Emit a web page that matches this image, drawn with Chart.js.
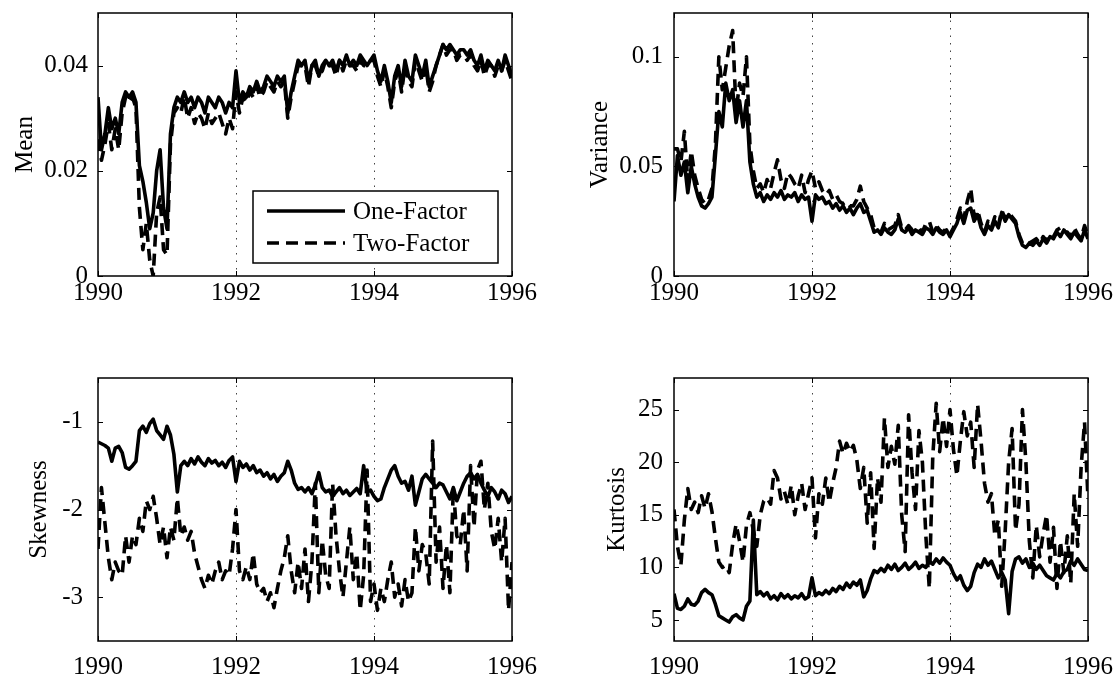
<!DOCTYPE html>
<html>
<head>
<meta charset="utf-8">
<title>One-Factor vs Two-Factor moments</title>
<script src="https://cdn.jsdelivr.net/npm/chart.js@4.4.0/dist/chart.umd.min.js"></script>
<style>
  html, body { margin: 0; padding: 0; background: #fff; width: 1114px; height: 677px; overflow: hidden; }
  canvas { position: absolute; }
</style>
</head>
<body>
<canvas id="cMean" width="538" height="310" style="left:0;top:0"></canvas>
<canvas id="cVar" width="538" height="310" style="left:576px;top:0"></canvas>
<canvas id="cSkew" width="538" height="312" style="left:0;top:365px"></canvas>
<canvas id="cKurt" width="538" height="312" style="left:576px;top:365px"></canvas>
<script>
// Observation grid: 20 observations per year starting in 1990
const FIRST_YEAR = 1990;
const OBS_PER_YEAR = 20;
const seriesNames = ['One-Factor', 'Two-Factor'];
const xTickYears = [1990, 1992, 1994, 1996];
const gridYears = [1992, 1994];

// Mean
const meanOne = [
  0.034,0.024,0.027,0.032,0.028,0.030,0.027,0.033,0.035,0.034,0.035,0.033,0.021,0.018,0.014,0.009,0.012,0.020,0.024,0.013,
  0.009,0.027,0.032,0.034,0.033,0.035,0.033,0.034,0.032,0.034,0.033,0.031,0.034,0.033,0.032,0.034,0.033,0.031,0.033,0.032,
  0.039,0.033,0.035,0.034,0.036,0.035,0.037,0.035,0.036,0.038,0.037,0.036,0.038,0.037,0.038,0.031,0.035,0.038,0.041,0.040,
  0.041,0.037,0.040,0.041,0.038,0.040,0.041,0.040,0.041,0.039,0.041,0.040,0.042,0.040,0.041,0.040,0.042,0.041,0.040,0.041,
  0.042,0.039,0.037,0.040,0.037,0.033,0.038,0.040,0.036,0.041,0.038,0.037,0.042,0.040,0.038,0.041,0.036,0.038,0.040,0.042,
  0.044,0.043,0.044,0.043,0.042,0.043,0.043,0.042,0.043,0.041,0.040,0.042,0.039,0.041,0.040,0.039,0.041,0.039,0.042,0.040,
  0.038
];
const meanTwo = [
  0.026,0.022,0.025,0.029,0.024,0.028,0.024,0.031,0.034,0.033,0.034,0.032,0.013,0.005,0.010,0.003,0.000,0.012,0.015,0.005,
  0.004,0.025,0.031,0.032,0.031,0.034,0.030,0.032,0.029,0.031,0.030,0.028,0.031,0.029,0.030,0.031,0.029,0.027,0.030,0.028,
  0.035,0.031,0.034,0.033,0.035,0.034,0.036,0.034,0.035,0.037,0.036,0.035,0.037,0.036,0.037,0.030,0.034,0.037,0.040,0.040,
  0.040,0.036,0.040,0.040,0.038,0.039,0.041,0.040,0.040,0.038,0.041,0.039,0.041,0.040,0.040,0.039,0.041,0.040,0.040,0.041,
  0.041,0.038,0.036,0.039,0.036,0.032,0.037,0.039,0.035,0.040,0.037,0.036,0.041,0.039,0.037,0.040,0.035,0.037,0.040,0.042,
  0.044,0.042,0.043,0.043,0.041,0.042,0.042,0.041,0.042,0.040,0.039,0.041,0.038,0.040,0.040,0.038,0.040,0.039,0.041,0.039,
  0.037
];

// Variance
const varOne = [
  0.034,0.055,0.046,0.052,0.038,0.050,0.042,0.036,0.032,0.031,0.033,0.036,0.055,0.075,0.068,0.088,0.080,0.085,0.070,0.080,
  0.068,0.080,0.052,0.042,0.036,0.038,0.034,0.037,0.035,0.038,0.036,0.039,0.035,0.037,0.036,0.038,0.034,0.037,0.035,0.036,
  0.025,0.037,0.035,0.036,0.033,0.034,0.031,0.033,0.030,0.032,0.029,0.031,0.028,0.031,0.033,0.029,0.030,0.025,0.020,0.021,
  0.019,0.022,0.020,0.019,0.021,0.026,0.021,0.020,0.022,0.019,0.021,0.020,0.019,0.022,0.021,0.019,0.022,0.020,0.019,0.021,
  0.018,0.021,0.024,0.029,0.024,0.030,0.031,0.025,0.028,0.022,0.019,0.023,0.021,0.025,0.022,0.029,0.025,0.028,0.026,0.024,
  0.018,0.014,0.013,0.015,0.014,0.016,0.014,0.017,0.015,0.018,0.017,0.020,0.018,0.021,0.019,0.017,0.020,0.018,0.016,0.021,
  0.017
];
const varTwo = [
  0.058,0.058,0.052,0.066,0.043,0.057,0.046,0.040,0.035,0.033,0.035,0.040,0.060,0.100,0.085,0.095,0.105,0.112,0.075,0.088,
  0.082,0.100,0.060,0.048,0.040,0.042,0.038,0.044,0.040,0.047,0.053,0.044,0.040,0.047,0.045,0.042,0.040,0.046,0.038,0.044,
  0.048,0.040,0.043,0.039,0.037,0.039,0.035,0.037,0.034,0.033,0.034,0.032,0.032,0.035,0.041,0.034,0.031,0.028,0.022,0.021,
  0.020,0.024,0.021,0.022,0.023,0.028,0.022,0.021,0.023,0.021,0.022,0.022,0.020,0.024,0.025,0.020,0.023,0.021,0.020,0.022,
  0.019,0.022,0.026,0.031,0.026,0.034,0.040,0.027,0.030,0.024,0.020,0.025,0.022,0.027,0.023,0.030,0.026,0.029,0.027,0.025,
  0.019,0.015,0.014,0.015,0.016,0.017,0.015,0.018,0.016,0.019,0.018,0.021,0.022,0.020,0.020,0.018,0.022,0.019,0.017,0.023,
  0.018
];

// Skewness
const skewOne = [
  -1.23,-1.25,-1.27,-1.30,-1.45,-1.30,-1.28,-1.35,-1.52,-1.54,-1.50,-1.45,-1.10,-1.05,-1.12,-1.02,-0.97,-1.10,-1.15,-1.20,
  -1.05,-1.15,-1.37,-1.80,-1.50,-1.45,-1.50,-1.42,-1.48,-1.40,-1.46,-1.50,-1.42,-1.47,-1.44,-1.50,-1.46,-1.52,-1.44,-1.40,
  -1.68,-1.45,-1.52,-1.48,-1.55,-1.50,-1.58,-1.55,-1.62,-1.58,-1.65,-1.60,-1.68,-1.62,-1.58,-1.45,-1.55,-1.70,-1.77,-1.75,
  -1.80,-1.75,-1.82,-1.72,-1.58,-1.75,-1.80,-1.78,-1.85,-1.80,-1.75,-1.82,-1.78,-1.84,-1.80,-1.76,-1.82,-1.50,-1.80,-1.78,
  -1.85,-1.90,-1.88,-1.75,-1.65,-1.55,-1.50,-1.62,-1.70,-1.68,-1.78,-1.62,-1.95,-1.80,-1.65,-1.60,-1.65,-1.70,-1.75,-1.70,
  -1.72,-1.80,-1.88,-1.75,-1.90,-1.80,-1.70,-1.62,-1.58,-1.65,-1.60,-1.70,-1.78,-1.85,-1.75,-1.80,-1.88,-1.78,-1.82,-1.92,
  -1.85
];
const skewTwo = [
  -2.45,-1.75,-2.15,-2.55,-2.80,-2.60,-2.70,-2.75,-2.30,-2.60,-2.30,-2.40,-2.10,-2.25,-1.90,-2.00,-1.85,-2.10,-2.40,-2.20,
  -2.55,-2.20,-2.35,-1.87,-2.30,-2.20,-2.35,-2.25,-2.50,-2.65,-2.80,-2.90,-2.75,-2.85,-2.70,-2.60,-2.80,-2.70,-2.75,-2.45,
  -2.00,-2.70,-2.80,-2.65,-2.80,-2.50,-2.85,-2.95,-2.90,-3.05,-2.95,-3.12,-2.90,-2.70,-2.55,-2.30,-2.70,-2.95,-2.60,-2.90,
  -2.45,-3.05,-2.60,-1.70,-2.95,-2.35,-2.75,-2.90,-1.70,-2.30,-2.70,-3.00,-2.60,-2.20,-2.80,-2.50,-3.15,-2.75,-1.55,-3.05,
  -2.85,-3.15,-2.90,-3.05,-2.80,-2.60,-3.00,-2.85,-3.10,-2.80,-3.05,-2.95,-2.20,-2.70,-2.40,-2.50,-2.85,-1.22,-2.60,-2.20,
  -2.90,-2.40,-2.95,-1.75,-2.30,-2.40,-2.00,-2.70,-1.50,-2.20,-1.55,-1.45,-2.00,-1.70,-2.25,-2.45,-2.10,-2.60,-2.10,-3.15,
  -2.60
];

// Kurtosis
const kurtOne = [
  7.5,6.1,6.0,6.3,7.0,6.5,6.4,6.8,7.6,7.9,7.6,7.4,6.5,5.4,5.2,5.0,4.8,5.3,5.5,5.2,
  5.0,6.3,6.8,14.5,7.4,7.7,7.3,7.6,7.0,7.3,6.9,7.5,7.1,7.4,7.0,7.3,7.1,7.5,7.0,7.2,
  9.0,7.3,7.6,7.4,7.8,7.5,8.0,7.7,8.2,7.9,8.5,8.1,8.6,8.3,8.8,7.2,7.8,8.9,9.7,9.5,
  9.9,9.6,10.2,9.8,10.3,9.7,10.0,10.4,9.8,10.1,10.5,9.9,10.2,10.0,10.6,10.3,10.8,10.4,10.9,10.5,
  10.2,9.4,8.8,9.2,8.3,7.8,8.2,9.5,10.3,10.0,10.8,10.2,10.6,9.8,9.0,9.5,8.8,5.6,9.6,10.8,
  11.0,10.4,10.8,10.0,10.4,9.8,10.2,9.7,9.2,9.0,8.8,9.4,9.0,9.6,9.8,10.6,10.2,10.8,10.3,9.8,
  9.7
];
const kurtTwo = [
  15.5,12.0,10.2,14.5,17.5,15.5,16.2,15.2,16.8,15.6,17.0,15.3,12.8,10.5,10.0,10.2,9.5,12.2,14.1,12.5,
  10.5,14.0,15.2,13.5,12.0,15.0,16.3,16.6,16.0,19.2,18.5,16.5,17.2,16.0,17.8,15.0,16.8,18.0,15.5,17.0,
  18.5,12.8,17.0,16.0,18.5,16.2,18.0,19.5,22.0,20.8,21.8,21.0,21.6,20.2,17.5,19.5,14.2,19.0,11.8,18.5,
  16.2,24.2,19.5,21.5,19.8,23.5,15.0,11.5,24.5,19.0,15.5,23.0,20.0,13.0,8.0,20.5,25.6,21.0,24.2,21.5,
  25.0,21.2,18.7,22.0,24.8,22.5,23.8,19.5,25.5,22.0,18.0,16.2,17.0,13.0,14.5,8.2,13.5,20.0,23.2,13.5,
  16.0,25.0,20.0,12.5,9.0,14.0,11.0,13.2,15.0,10.5,13.8,8.0,12.5,9.5,13.0,8.5,17.0,12.0,19.5,23.8,
  16.5
];

// Tick values for each panel's vertical axis
const meanTicks = [0, 0.02, 0.04];
const varTicks = [0, 0.05, 0.1];
const skewTicks = [-3, -2, -1];
const kurtTicks = [5, 10, 15, 20, 25];

const FONT = { family: "'Liberation Serif', 'Times New Roman', Times, serif", size: 25 };

function toPoints(values) {
  return values.map((v, i) => ({ x: FIRST_YEAR + i / OBS_PER_YEAR, y: v }));
}

// Boxed axes with inward tick marks, dotted year lines and an optional inset legend
const boxAxes = {
  id: 'boxAxes',
  beforeDatasetsDraw(chart) {
    const { ctx, chartArea: a, scales: { x } } = chart;
    ctx.save();
    ctx.strokeStyle = '#444';
    ctx.lineWidth = 1;
    ctx.setLineDash([1.5, 6]);
    gridYears.forEach(yr => {
      const px = Math.round(x.getPixelForValue(yr)) + 0.5;
      ctx.beginPath();
      ctx.moveTo(px, a.top);
      ctx.lineTo(px, a.bottom);
      ctx.stroke();
    });
    ctx.restore();
  },
  afterDraw(chart, args, opts) {
    const { ctx, chartArea: a, scales: { x, y } } = chart;
    ctx.save();
    ctx.strokeStyle = '#000';
    ctx.lineWidth = 1;
    const tl = 5;
    ctx.beginPath();
    x.ticks.forEach(t => {
      const px = Math.round(x.getPixelForValue(t.value)) + 0.5;
      ctx.moveTo(px, a.bottom); ctx.lineTo(px, a.bottom - tl);
      ctx.moveTo(px, a.top); ctx.lineTo(px, a.top + tl);
    });
    y.ticks.forEach(t => {
      const py = Math.round(y.getPixelForValue(t.value)) + 0.5;
      ctx.moveTo(a.left, py); ctx.lineTo(a.left + tl, py);
      ctx.moveTo(a.right, py); ctx.lineTo(a.right - tl, py);
    });
    ctx.stroke();
    ctx.lineWidth = 1.5;
    ctx.strokeRect(a.left, a.top, a.right - a.left, a.bottom - a.top);

    if (opts && opts.legend) {
      const w = 245, h = 72;
      const bx = a.right - 14 - w, by = a.bottom - 13 - h;
      ctx.fillStyle = '#fff';
      ctx.fillRect(bx, by, w, h);
      ctx.lineWidth = 1.5;
      ctx.strokeRect(bx, by, w, h);
      const rows = [by + 20, by + 52];
      chart.data.datasets.forEach((ds, i) => {
        ctx.beginPath();
        ctx.lineWidth = ds.borderWidth;
        ctx.strokeStyle = ds.borderColor;
        ctx.setLineDash(ds.borderDash || []);
        ctx.moveTo(bx + 14, rows[i]);
        ctx.lineTo(bx + 92, rows[i]);
        ctx.stroke();
        ctx.setLineDash([]);
        ctx.fillStyle = '#000';
        ctx.font = `${FONT.size}px ${FONT.family}`;
        ctx.textBaseline = 'middle';
        ctx.textAlign = 'left';
        ctx.fillText(ds.label, bx + 100, rows[i] + 1);
      });
    }
    ctx.restore();
  }
};

function makePanel(id, cfg) {
  const canvas = document.getElementById(id);
  const H = canvas.height;
  new Chart(canvas, {
    type: 'line',
    data: {
      datasets: [
        { label: seriesNames[0], data: toPoints(cfg.one), borderColor: '#000', borderWidth: 3.6,
          borderJoinStyle: 'round', pointRadius: 0, tension: 0 },
        { label: seriesNames[1], data: toPoints(cfg.two), borderColor: '#000', borderWidth: 3.6,
          borderDash: [12, 7], borderJoinStyle: 'round', pointRadius: 0, tension: 0 }
      ]
    },
    options: {
      responsive: false,
      animation: false,
      events: [],
      layout: { padding: { top: 13, right: 26, left: 0, bottom: 0 } },
      plugins: {
        legend: { display: false },
        tooltip: { enabled: false },
        boxAxes: { legend: !!cfg.legend }
      },
      scales: {
        x: {
          type: 'linear', min: 1990, max: 1996,
          grid: { display: false, drawTicks: false, tickLength: 0 },
          border: { display: false },
          afterBuildTicks: s => { s.ticks = xTickYears.map(v => ({ value: v })); },
          afterFit: s => { s.height = H - cfg.bottom; s.paddingLeft = 0; s.paddingRight = 0; },
          ticks: { font: FONT, color: '#000', padding: cfg.xPad, maxRotation: 0, autoSkip: false,
                   callback: v => String(v) }
        },
        y: {
          type: 'linear', min: cfg.min, max: cfg.max,
          grid: { display: false, drawTicks: false, tickLength: 0 },
          border: { display: false },
          afterBuildTicks: s => { s.ticks = cfg.ticks.map(v => ({ value: v })); },
          afterFit: s => { s.width = 98; s.paddingTop = 0; s.paddingBottom = 0; },
          ticks: { font: FONT, color: '#000', padding: cfg.yPad, callback: v => String(v) },
          title: { display: true, text: cfg.title, font: FONT, color: '#000',
                   padding: { top: cfg.titlePad, bottom: 0 } }
        }
      }
    },
    plugins: [boxAxes]
  });
}

makePanel('cMean', { one: meanOne, two: meanTwo, min: 0, max: 0.05, ticks: meanTicks,
  title: 'Mean', titlePad: 10, yPad: 10, xPad: 2, bottom: 276, legend: true });
makePanel('cVar', { one: varOne, two: varTwo, min: 0, max: 0.12, ticks: varTicks,
  title: 'Variance', titlePad: 9, yPad: 11, xPad: 2, bottom: 276 });
makePanel('cSkew', { one: skewOne, two: skewTwo, min: -3.5, max: -0.5, ticks: skewTicks,
  title: 'Skewness', titlePad: 24, yPad: 15, xPad: 11, bottom: 276 });
makePanel('cKurt', { one: kurtOne, two: kurtTwo, min: 3, max: 28, ticks: kurtTicks,
  title: 'Kurtosis', titlePad: 26, yPad: 11, xPad: 11, bottom: 276 });
</script>
</body>
</html>
